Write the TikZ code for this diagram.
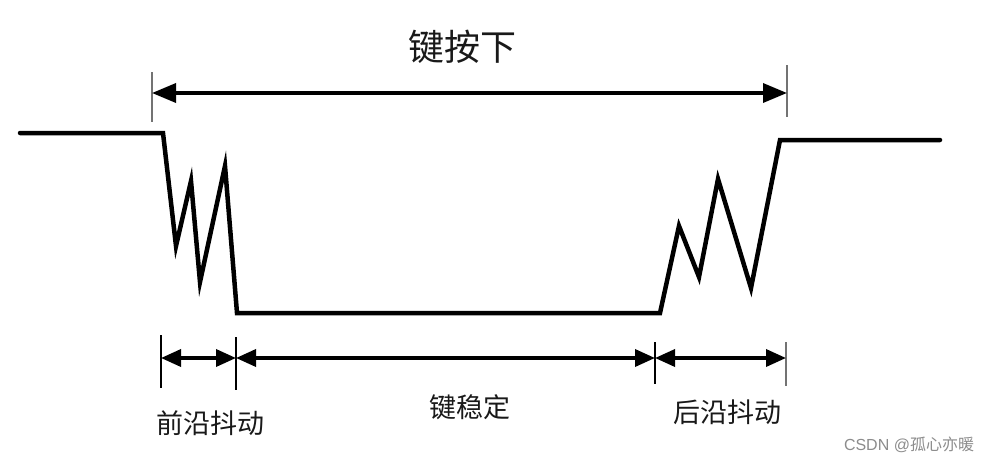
\documentclass[tikz,border=0pt]{standalone}
\usepackage{fontspec}
\setmainfont{Liberation Sans}
\newfontfamily\cjk{Noto Sans CJK SC}
\usetikzlibrary{arrows.meta}
\begin{document}
\begin{tikzpicture}[x=1pt,y=-1pt,
  wave/.style={line width=4.5pt,line join=miter,line cap=round},
  dim/.style={line width=3.5pt,{Triangle[length=24pt,width=19pt]}-{Triangle[length=24pt,width=19pt]}},
  dimsmall/.style={line width=3.5pt,{Triangle[length=20pt,width=17pt]}-{Triangle[length=20pt,width=17pt]}},
  tickgray/.style={line width=2.2pt,draw=black!55},
  tickblack/.style={line width=2.8pt,draw=black},
  lbl/.style={font=\cjk\fontsize{27}{30}\selectfont,text=black!90,inner sep=0pt},
]
\useasboundingbox (0,0) rectangle (992,463);
\fill[white] (0,0) rectangle (992,463);
% waveform
\draw[wave] (20,133) -- (163,133) -- (176,246) -- (191,181) -- (200,282) -- (225,166) -- (237,313)
  -- (660,313) -- (679,226) -- (699,277) -- (718,179) -- (751,288) -- (780,140) -- (940,140);
% top dimension
\coordinate (tl) at (152,93);
\coordinate (tr) at (787,93);
\draw[tickgray] (152,72) -- (152,122);
\draw[tickgray] (787,65) -- (787,117);
\draw[dim] (tl) -- (tr);
\node[lbl,font=\cjk\fontsize{36}{40}\selectfont] (title) at (462,47) {键按下};
% bottom dimensions
\coordinate (b1) at (161,358);
\coordinate (b2) at (236,358);
\coordinate (b3) at (655,358);
\coordinate (b4) at (786,358);
\draw[tickblack] (161,335) -- (161,388);
\draw[tickblack] (236,337) -- (236,390);
\draw[tickblack] (655,342) -- (655,384);
\draw[tickgray] (786,342) -- (786,386);
\draw[dimsmall] (b1) -- (b2);
\draw[dimsmall] (b2) -- (b3);
\draw[dimsmall] (b3) -- (b4);
\node[lbl] (l1) at (210,423) {前沿抖动};
\node[lbl] (l2) at (470,407) {键稳定};
\node[lbl] (l3) at (727,412) {后沿抖动};
\node[inner sep=0pt,text=black!45,font=\fontsize{16}{18}\selectfont] (wm) at (909,445) {CSDN @{\cjk 孤心亦暖}};
\end{tikzpicture}
\end{document}
